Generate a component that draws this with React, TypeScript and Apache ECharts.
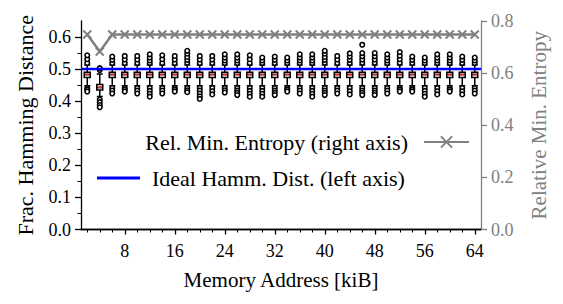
import React, { useEffect, useRef } from "react";
import * as echarts from "echarts";

const addresses = [2, 4, 6, 8, 10, 12, 14, 16, 18, 20, 22, 24, 26, 28, 30, 32, 34, 36, 38, 40, 42, 44, 46, 48, 50, 52, 54, 56, 58, 60, 62, 64];
const entropy = [0.748, 0.683, 0.748, 0.748, 0.748, 0.748, 0.748, 0.748, 0.748, 0.748, 0.748, 0.748, 0.748, 0.748, 0.748, 0.748, 0.748, 0.748, 0.748, 0.748, 0.748, 0.748, 0.748, 0.748, 0.748, 0.748, 0.748, 0.748, 0.748, 0.748, 0.748, 0.748];

const lowWhisker = [0.448, 0.415, 0.448, 0.448, 0.448, 0.448, 0.448, 0.448, 0.448, 0.448, 0.448, 0.448, 0.448, 0.448, 0.448, 0.448, 0.448, 0.448, 0.448, 0.448, 0.448, 0.448, 0.448, 0.448, 0.448, 0.448, 0.448, 0.448, 0.448, 0.448, 0.448, 0.448];
const q1 = [0.474, 0.435, 0.474, 0.474, 0.474, 0.474, 0.474, 0.474, 0.474, 0.474, 0.474, 0.474, 0.474, 0.474, 0.474, 0.474, 0.474, 0.474, 0.474, 0.474, 0.474, 0.474, 0.474, 0.474, 0.474, 0.474, 0.474, 0.474, 0.474, 0.474, 0.474, 0.474];
const median = [0.483, 0.443, 0.483, 0.483, 0.483, 0.483, 0.483, 0.483, 0.483, 0.483, 0.483, 0.483, 0.483, 0.483, 0.483, 0.483, 0.483, 0.483, 0.483, 0.483, 0.483, 0.483, 0.483, 0.483, 0.483, 0.483, 0.483, 0.483, 0.483, 0.483, 0.483, 0.483];
const q3 = [0.49, 0.452, 0.49, 0.49, 0.49, 0.49, 0.49, 0.49, 0.49, 0.49, 0.49, 0.49, 0.49, 0.49, 0.49, 0.49, 0.49, 0.49, 0.49, 0.49, 0.49, 0.49, 0.49, 0.49, 0.49, 0.49, 0.49, 0.49, 0.49, 0.49, 0.49, 0.49];
const highWhisker = [0.513, 0.485, 0.513, 0.513, 0.513, 0.513, 0.513, 0.513, 0.513, 0.513, 0.513, 0.513, 0.513, 0.513, 0.513, 0.513, 0.513, 0.513, 0.513, 0.513, 0.513, 0.513, 0.513, 0.513, 0.513, 0.513, 0.513, 0.513, 0.513, 0.513, 0.513, 0.513];

const upperOutliers = [
  [0.519, 0.531, 0.543],
  [0.497, 0.503],
  [0.519, 0.529, 0.539],
  [0.519, 0.53, 0.541],
  [0.519, 0.53, 0.541],
  [0.519, 0.527, 0.536, 0.546],
  [0.519, 0.531, 0.543],
  [0.519, 0.53, 0.541],
  [0.52, 0.529, 0.538, 0.548, 0.557],
  [0.519, 0.53, 0.541],
  [0.519, 0.53, 0.541],
  [0.519, 0.527, 0.536, 0.546],
  [0.519, 0.527, 0.536, 0.546],
  [0.519, 0.531, 0.543],
  [0.519, 0.527, 0.536],
  [0.519, 0.529, 0.539],
  [0.519, 0.527, 0.536],
  [0.519, 0.527, 0.536, 0.546],
  [0.519, 0.527, 0.536, 0.546],
  [0.52, 0.529, 0.538, 0.548, 0.557],
  [0.519, 0.53, 0.541],
  [0.519, 0.529, 0.539, 0.549],
  [0.52, 0.53, 0.54, 0.55, 0.576],
  [0.52, 0.53, 0.54, 0.55],
  [0.519, 0.527, 0.536, 0.546],
  [0.52, 0.531, 0.542, 0.553],
  [0.519, 0.529, 0.539],
  [0.519, 0.527, 0.536],
  [0.519, 0.527, 0.536, 0.546],
  [0.519, 0.527, 0.536, 0.546],
  [0.519, 0.529, 0.539],
  [0.519, 0.527, 0.536],
];
const lowerOutliers = [
  [0.441, 0.436, 0.43],
  [0.405, 0.397, 0.388, 0.381],
  [0.441, 0.433, 0.424],
  [0.441, 0.436, 0.43],
  [0.441, 0.433, 0.424],
  [0.441, 0.432, 0.423, 0.414],
  [0.441, 0.433, 0.424],
  [0.441, 0.436, 0.43],
  [0.441, 0.434, 0.428],
  [0.441, 0.433, 0.424, 0.415, 0.407],
  [0.441, 0.431, 0.421],
  [0.441, 0.434, 0.427],
  [0.441, 0.433, 0.426, 0.419],
  [0.441, 0.432, 0.423, 0.414],
  [0.441, 0.432, 0.423, 0.414],
  [0.441, 0.433, 0.426, 0.419],
  [0.441, 0.436, 0.43],
  [0.441, 0.433, 0.424],
  [0.441, 0.432, 0.423, 0.414],
  [0.441, 0.433, 0.426, 0.419],
  [0.441, 0.433, 0.424],
  [0.441, 0.431, 0.421],
  [0.441, 0.433, 0.426, 0.419],
  [0.441, 0.433, 0.426, 0.419],
  [0.441, 0.433, 0.424],
  [0.441, 0.436, 0.43],
  [0.441, 0.436, 0.43],
  [0.441, 0.432, 0.423, 0.414],
  [0.441, 0.431, 0.421],
  [0.441, 0.436, 0.43],
  [0.441, 0.431, 0.421],
  [0.441, 0.433, 0.424],
];

const idealX = [1, 65];
const idealY = [0.5, 0.5];

const xMajorTicks = [8, 16, 24, 32, 40, 48, 56, 64];
const xMinorTicks = [2, 4, 6, 10, 12, 14, 18, 20, 22, 26, 28, 30, 34, 36, 38, 42, 44, 46, 50, 52, 54, 58, 60, 62];
const yLeftMajor = [0, 0.1, 0.2, 0.3, 0.4, 0.5, 0.6];
const yLeftMinor = [0.05, 0.15, 0.25, 0.35, 0.45, 0.55];

const SERIF = "'Liberation Serif', 'DejaVu Serif', serif";
const GRAY = "#808080";

export default function App() {
  const ref = useRef<HTMLDivElement>(null);
  useEffect(() => {
    if (!ref.current) return;
    const chart = echarts.init(ref.current, undefined, { renderer: "svg" });
    const boxData = addresses.map((x, i) => [x, lowWhisker[i], q1[i], median[i], q3[i], highWhisker[i]]);
    const medData = addresses.map((x, i) => [x, median[i]]);
    const outData: number[][] = [];
    addresses.forEach((x, i) => {
      upperOutliers[i].forEach((v) => outData.push([x, v]));
      lowerOutliers[i].forEach((v) => outData.push([x, v]));
    });
    const tickFont = { fontFamily: SERIF, fontSize: 18, color: "#000" };
    chart.setOption({
      animation: false,
      backgroundColor: "#fff",
      grid: { left: 81, top: 21, width: 400, height: 208.5, containLabel: false },
      legend: [
        {
          data: ["Rel. Min. Entropy (right axis)"],
          right: 93,
          top: 131,
          padding: 0,
          align: "right",
          itemWidth: 45,
          itemHeight: 14,
          textStyle: { fontFamily: SERIF, fontSize: 22, color: "#000", padding: [0, 11, 0, 0] },
        },
        {
          data: [{ name: "Ideal Hamm. Dist. (left axis)", icon: "rect" }],
          left: 97,
          top: 167,
          padding: 0,
          align: "left",
          itemWidth: 43,
          itemHeight: 3,
          textStyle: { fontFamily: SERIF, fontSize: 22, color: "#000", padding: [0, 0, 0, 7] },
        },
      ],
      xAxis: [
        {
          type: "value",
          position: "bottom",
          min: 1,
          max: 65,
          axisLine: { show: true, lineStyle: { color: "#000", width: 1.3 } },
          axisTick: { show: true, customValues: xMajorTicks, length: 5, lineStyle: { color: "#000", width: 1.3 } },
          axisLabel: { show: true, customValues: xMajorTicks, margin: 12, ...tickFont },
          splitLine: { show: false },
          name: "Memory Address [kiB]",
          nameLocation: "middle",
          nameGap: 40,
          nameTextStyle: { fontFamily: SERIF, fontSize: 21, color: "#000" },
        },
        {
          type: "value",
          position: "bottom",
          min: 1,
          max: 65,
          axisLine: { show: false },
          axisTick: { show: true, customValues: xMinorTicks, length: 3, lineStyle: { color: "#000", width: 1 } },
          axisLabel: { show: false },
          splitLine: { show: false },
        },
        {
          type: "value",
          position: "top",
          min: 1,
          max: 65,
          axisLine: { show: true, lineStyle: { color: "#000", width: 1.3 } },
          axisTick: { show: false },
          axisLabel: { show: false },
          splitLine: { show: false },
        },
      ],
      yAxis: [
        {
          type: "value",
          position: "left",
          min: 0,
          max: 0.65,
          axisLine: { show: true, lineStyle: { color: "#000", width: 1.3 } },
          axisTick: { show: true, customValues: yLeftMajor, length: 6, lineStyle: { color: "#000", width: 1.3 } },
          axisLabel: { show: true, customValues: yLeftMajor, margin: 10, formatter: (v: number) => v.toFixed(1), ...tickFont },
          splitLine: { show: false },
          name: "Frac. Hamming Distance",
          nameLocation: "middle",
          nameGap: 45,
          nameTextStyle: { fontFamily: SERIF, fontSize: 22, color: "#000" },
        },
        {
          type: "value",
          position: "left",
          min: 0,
          max: 0.65,
          axisLine: { show: false },
          axisTick: { show: true, customValues: yLeftMinor, length: 3.5, lineStyle: { color: "#000", width: 1 } },
          axisLabel: { show: false },
          splitLine: { show: false },
        },
        {
          type: "value",
          position: "right",
          min: 0,
          max: 0.8,
          interval: 0.2,
          axisLine: { show: true, lineStyle: { color: GRAY, width: 1.3 } },
          axisTick: { show: true, length: 6, lineStyle: { color: GRAY, width: 1.3 } },
          axisLabel: { show: true, margin: 10, formatter: (v: number) => v.toFixed(1), fontFamily: SERIF, fontSize: 18, color: GRAY },
          splitLine: { show: false },
          name: "Relative Min. Entropy",
          nameLocation: "middle",
          nameGap: 47,
          nameRotate: 90,
          nameTextStyle: { fontFamily: SERIF, fontSize: 21, color: GRAY },
        },
      ],
      series: [
        {
          type: "boxplot",
          xAxisIndex: 0,
          yAxisIndex: 0,
          data: boxData,
          boxWidth: [6, 6],
          itemStyle: { color: "#fff", borderColor: "#000", borderWidth: 1.5 },
          z: 2,
        },
        {
          type: "scatter",
          xAxisIndex: 0,
          yAxisIndex: 0,
          data: outData,
          symbol: "circle",
          symbolSize: 4.5,
          itemStyle: { color: "#fff", borderColor: "#000", borderWidth: 1.6, opacity: 1 },
          z: 3,
        },
        {
          type: "scatter",
          xAxisIndex: 0,
          yAxisIndex: 0,
          data: medData,
          symbol: "rect",
          symbolSize: [4, 2],
          itemStyle: { color: "#d23030", opacity: 1 },
          z: 4,
        },
        {
          type: "line",
          name: "Ideal Hamm. Dist. (left axis)",
          xAxisIndex: 0,
          yAxisIndex: 0,
          data: idealX.map((x, i) => [x, idealY[i]]),
          showSymbol: false,
          symbol: "none",
          lineStyle: { color: "#0000ff", width: 2.5 },
          itemStyle: { color: "#0000ff" },
          z: 5,
        },
        {
          type: "line",
          name: "Rel. Min. Entropy (right axis)",
          xAxisIndex: 0,
          yAxisIndex: 2,
          data: addresses.map((x, i) => [x, entropy[i]]),
          symbol: "path://M0,0L10,10M0,10L10,0",
          symbolSize: 8,
          lineStyle: { color: GRAY, width: 2.5 },
          itemStyle: { color: GRAY, borderColor: GRAY, borderWidth: 2 },
          z: 5,
        },
      ],
    });
    return () => chart.dispose();
  }, []);
  return (
    <div
      ref={ref}
      style={{ position: "fixed", left: 0, top: 0, width: 563, height: 304, background: "#fff" }}
    />
  );
}
